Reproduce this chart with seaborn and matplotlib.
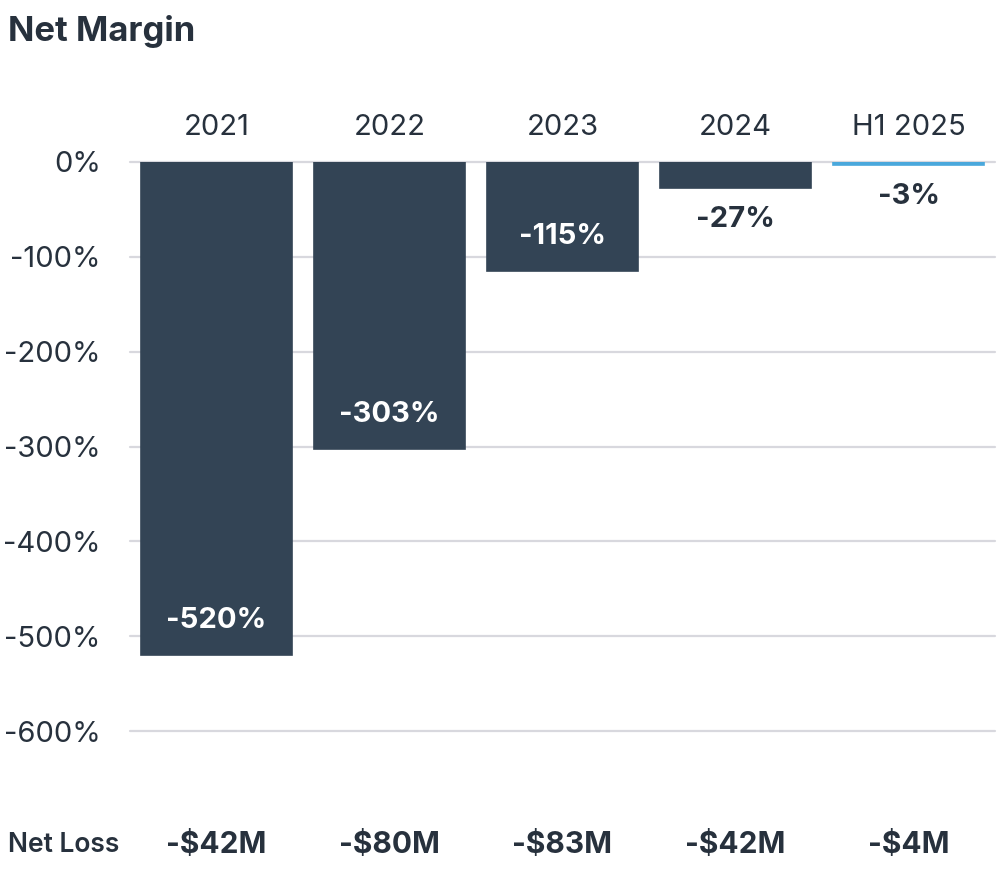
import matplotlib
matplotlib.use("Agg")
import matplotlib.pyplot as plt
import matplotlib.transforms as mtransforms
import pandas as pd
import seaborn as sns

# Chart data
periods = ["2021", "2022", "2023", "2024", "H1 2025"]
net_margin = [-520, -303, -115, -27, -3]
net_loss = ["-$42M", "-$80M", "-$83M", "-$42M", "-$4M"]
yticks = [0, -100, -200, -300, -400, -500, -600]

dark = "#334455"
blue = "#4aa8dc"
text_color = "#27313d"
bar_colors = [dark, dark, dark, dark, blue]

sns.set_style("white")
plt.rcParams["font.family"] = ["Inter", "DejaVu Sans"]

df = pd.DataFrame({"period": periods, "margin": net_margin})

fig = plt.figure(figsize=(10.07, 8.75), dpi=100)
ax = fig.add_axes([130 / 1007, 1 - 731 / 875, 865 / 1007, 569 / 875])

sns.barplot(data=df, x="period", y="margin", hue="period", palette=bar_colors,
            legend=False, width=0.87, saturation=1, ax=ax, zorder=2)

# the tiny H1 2025 bar gets an outline so it reads as a thin strip
for patch, c in zip(ax.patches, bar_colors):
    patch.set_edgecolor(c)
    patch.set_linewidth(1.2)

ax.set_xlim(-0.5, 4.5)
ax.set_ylim(-600, 0)
ax.set_yticks(yticks)
ax.set_yticklabels([f"{v}%" for v in yticks])
ax.set_xlabel("")
ax.set_ylabel("")

# gridlines behind the bars
for v in yticks:
    ax.axhline(v, color="#d8d8de", linewidth=1.6, zorder=0, clip_on=False)

for s in ax.spines.values():
    s.set_visible(False)

ax.xaxis.tick_top()
ax.tick_params(axis="x", length=0, pad=15, labelsize=21, labelcolor=text_color)
ax.tick_params(axis="y", length=0, pad=21, labelsize=21, labelcolor=text_color)

# value labels: inside large bars, below small ones
for i, v in enumerate(net_margin):
    if v <= -100:
        ax.annotate(f"{v}%", (i, v), xytext=(0, 25), textcoords="offset points",
                    ha="center", va="center", fontsize=21, fontweight="bold",
                    color="white", zorder=3)
    else:
        ax.annotate(f"{v}%", (i, v), xytext=(0, -23), textcoords="offset points",
                    ha="center", va="center", fontsize=21, fontweight="bold",
                    color=text_color, zorder=3)

# net loss row under the chart
trans = mtransforms.blended_transform_factory(ax.transData, ax.transAxes)
for i, loss in enumerate(net_loss):
    ax.text(i, -0.2, loss, transform=trans, ha="center", va="center",
            fontsize=21.5, fontweight="bold", color=text_color)
fig.text(8 / 1007, 1 - 845 / 875, "Net Loss", ha="left", va="center",
         fontsize=19, fontweight="semibold", color=text_color)

fig.text(8 / 1007, 1 - 32 / 875, "Net Margin", ha="left", va="center",
         fontsize=25, fontweight="bold", color=text_color)

fig.savefig("out.png", dpi=100, facecolor="white")
